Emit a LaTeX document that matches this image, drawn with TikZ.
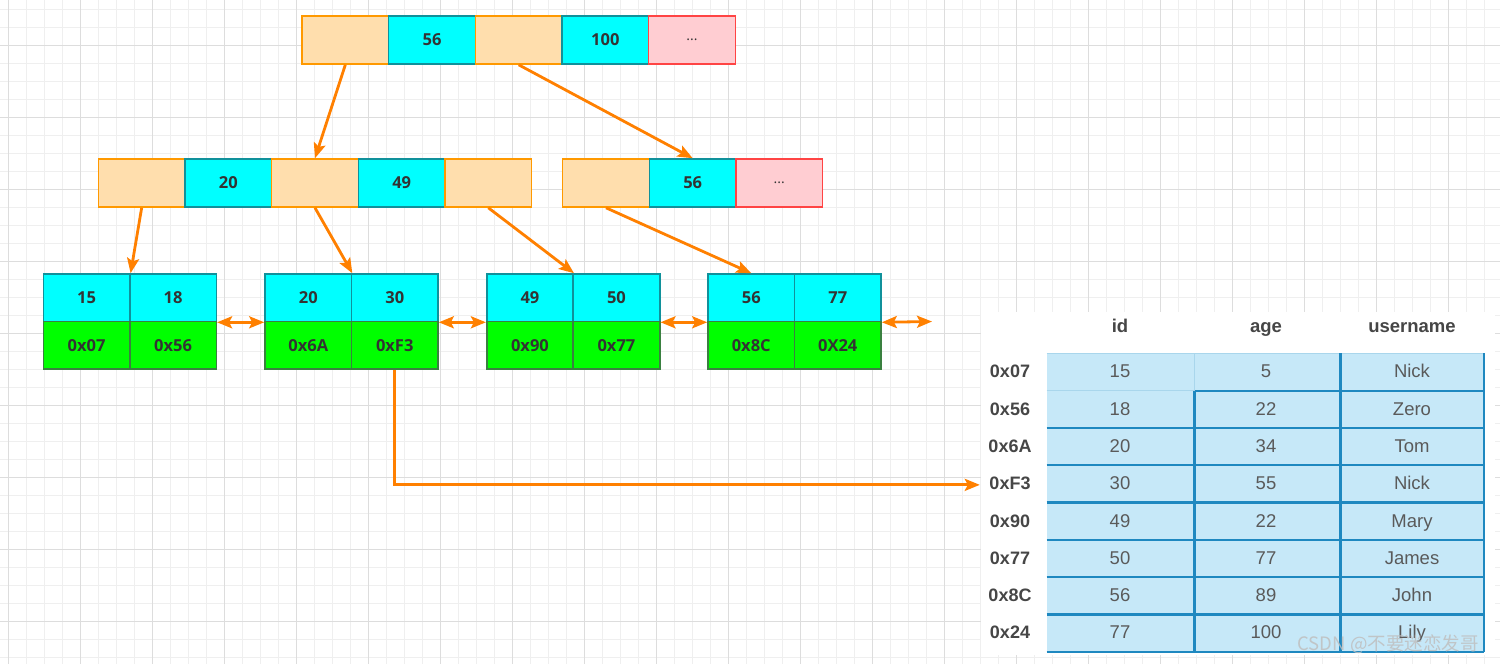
\documentclass[tikz,border=0pt]{standalone}
\usepackage{fontspec}
\setmainfont{Open Sans}
\newfontfamily\tabfont{Liberation Sans}
\newfontfamily\cjkfont{Noto Sans CJK SC}
\usetikzlibrary{arrows.meta}
\definecolor{okfill}{HTML}{FFDEAD}
\definecolor{okdraw}{HTML}{FF9900}
\definecolor{cyfill}{HTML}{00FFFF}
\definecolor{cydraw}{HTML}{10919B}
\definecolor{pkfill}{HTML}{FFCDD2}
\definecolor{pkdraw}{HTML}{FF4444}
\definecolor{grfill}{HTML}{00FF00}
\definecolor{grdraw}{HTML}{3A8040}
\definecolor{arr}{HTML}{FF8000}
\definecolor{txt}{HTML}{333333}
\definecolor{tbfill}{HTML}{C6E8F8}
\definecolor{tbdraw}{HTML}{1E88C0}
\definecolor{tblight}{HTML}{A9D6EC}
\definecolor{gminor}{HTML}{EFEFEF}
\definecolor{gmajor}{HTML}{DDDDDD}
\definecolor{hdtxt}{HTML}{464646}
\definecolor{cltxt}{HTML}{5A5A5A}
\tikzset{
  cell/.style={minimum width=86.67pt, minimum height=48pt, inner sep=0pt, line width=1.6pt,
    font=\bfseries\fontsize{16.5}{18}\selectfont, text=txt},
  okc/.style={cell, fill=okfill, draw=okdraw},
  cyc/.style={cell, fill=cyfill, draw=cydraw},
  pkc/.style={cell, fill=pkfill, draw=pkdraw, font=\mdseries\fontsize{14}{16}\selectfont},
  lkc/.style={cell, minimum width=86.5pt, minimum height=47.5pt, fill=cyfill, draw=cydraw},
  lac/.style={cell, minimum width=86.5pt, minimum height=47.5pt, fill=grfill, draw=grdraw},
  tipA/.tip={Stealth[length=15pt,width=12pt,inset=3pt]},
  link/.style={draw=arr, line width=2.8pt, -tipA},
  dlink/.style={draw=arr, line width=2.8pt, tipA-tipA},
  tabtxt/.style={inner sep=0pt, text height=13.2pt, text depth=3.5pt},
  hdr/.style={tabtxt, font=\tabfont\bfseries\fontsize{18.5}{20}\selectfont, text=hdtxt},
  rowlab/.style={tabtxt, font=\tabfont\bfseries\fontsize{18}{20}\selectfont, text=hdtxt, minimum width=60pt},
  tcell/.style={tabtxt, font=\tabfont\fontsize{18.5}{20}\selectfont, text=cltxt},
  tline/.style={draw=tbdraw, line width=2.2pt},
  tlight/.style={draw=tblight, line width=1.2pt}
}
\begin{document}
\begin{tikzpicture}[x=1pt,y=-1pt]
\useasboundingbox (0,0) rectangle (1500,664);
\fill[white] (0,0) rectangle (1500,664);
% grid
\foreach \x in {8,26,...,1500} \draw[gminor, line width=1pt] (\x,0) -- (\x,664);
\foreach \y in {9,27,...,664} \draw[gminor, line width=1pt] (0,\y) -- (1500,\y);
\foreach \x in {8,80,...,1500} \draw[gmajor, line width=1pt] (\x,0) -- (\x,664);
\foreach \y in {45,117,...,664} \draw[gmajor, line width=1pt] (0,\y) -- (1500,\y);
% table background image area
\fill[white] (981,312) rectangle (1495,655);
\fill[tbfill] (1046.5,353.3) rectangle (1484,651.7);
% table lines
\draw[tlight] (1046.5,353.3) -- (1484,353.3);
\draw[tlight] (1046.5,390.6) -- (1194.5,390.6);
\draw[tlight] (1194.5,353.3) -- (1194.5,390.6);
\draw[tline] (1194.5,390.6) -- (1484,390.6);
\foreach \k in {2,...,8} \draw[tline] (1046.5,{353.3+37.3*\k}) -- (1484,{353.3+37.3*\k});
\draw[tline] (1194.5,390.6) -- (1194.5,651.7);
\draw[tline] (1340.5,353.3) -- (1340.5,651.7);
\draw[tline] (1484,353.3) -- (1484,651.7);
% table headers
\node[hdr] (hid) at (1120,327.5) {id};
\node[hdr] (hage) at (1266,327.5) {age};
\node[hdr] (hname) at (1412,327.5) {username};
\foreach [count=\r] \lab/\id/\age/\nm in {0x07/15/5/Nick, 0x56/18/22/Zero, 0x6A/20/34/Tom, 0xF3/30/55/Nick, 0x90/49/22/Mary, 0x77/50/77/James, 0x8C/56/89/John, 0x24/77/100/Lily}{
  \node[rowlab] (row\r) at (1010,{372.95+37.3*(\r-1)}) {\lab};
  \node[tcell] (id\r) at (1120,{372.95+37.3*(\r-1)}) {\id};
  \node[tcell] (age\r) at (1266,{372.95+37.3*(\r-1)}) {\age};
  \node[tcell] (nm\r) at (1412,{372.95+37.3*(\r-1)}) {\nm};
}
\node[font=\cjkfont\fontsize{18.5}{20}\selectfont, text=gray!50, opacity=0.85, inner sep=0pt] (wm) at (1388,644) {CSDN @不要迷恋发哥};
% top node
\node[okc] (t1) at (345.33,40) {};
\node[cyc] (t2) at (432,40) {56};
\node[okc] (t3) at (518.67,40) {};
\node[cyc] (t4) at (605.33,40) {100};
\node[pkc] (t5) at (692,40) {...};
% middle left
\node[okc] (m1) at (141.67,183) {};
\node[cyc] (m2) at (228.33,183) {20};
\node[okc] (m3) at (315,183) {};
\node[cyc] (m4) at (401.67,183) {49};
\node[okc] (m5) at (488.33,183) {};
% middle right
\node[okc] (r1) at (606,183) {};
\node[cyc] (r2) at (692.67,183) {56};
\node[pkc] (r3) at (779.33,183) {...};
% leaves
\foreach \i/\x/\ka/\kb/\aa/\ab in {1/43.3/15/18/0x07/0x56, 2/265/20/30/0x6A/0xF3, 3/486.7/49/50/0x90/0x77, 4/708/56/77/0x8C/0X24}{
  \node[lkc] (L\i-a) at ({\x+43.25},297.75) {\ka};
  \node[lkc] (L\i-b) at ({\x+129.75},297.75) {\kb};
  \node[lac] (L\i-c) at ({\x+43.25},345.25) {\aa};
  \node[lac] (L\i-d) at ({\x+129.75},345.25) {\ab};
}
% connectors
\draw[link] (t1.south) -- (m3.north);
\draw[link] (t3.south) -- (r2.north);
\draw[link] (m1.south) -- (L1-a.north east);
\draw[link] (m3.south) -- (L2-a.north east);
\draw[link] (m5.south) -- (L3-a.north east);
\draw[link] (r1.south) -- (L4-a.north);
\draw[dlink] (L1-b.south east) -- (L2-a.south west);
\draw[dlink] (L2-b.south east) -- (L3-a.south west);
\draw[dlink] (L3-b.south east) -- (L4-a.south west);
\coordinate (tail) at (932,321.5);
\draw[dlink] (L4-b.south east) -- (tail);
\draw[link] (L2-d.south) |- (row4.west);
\end{tikzpicture}
\end{document}
